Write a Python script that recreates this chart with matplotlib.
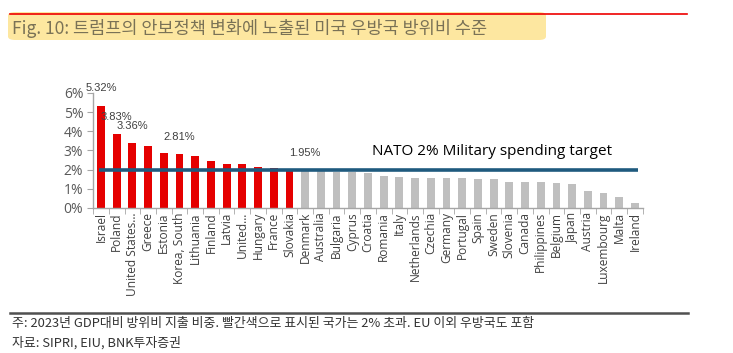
import matplotlib
matplotlib.use('Agg')
import matplotlib.pyplot as plt
from matplotlib.patches import FancyBboxPatch
from matplotlib.lines import Line2D
from matplotlib.ticker import FuncFormatter, FixedLocator

# ---------------------------------------------------------------
# DATA  (defence spending as share of GDP, 2023)
# ---------------------------------------------------------------
countries = ['Israel', 'Poland', 'United States\u2026', 'Greece', 'Estonia',
             'Korea, South', 'Lithuania', 'Finland', 'Latvia', 'United\u2026',
             'Hungary', 'France', 'Slovakia', 'Denmark', 'Australia',
             'Bulgaria', 'Cyprus', 'Croatia', 'Romania', 'Italy',
             'Netherlands', 'Czechia', 'Germany', 'Portugal', 'Spain',
             'Sweden', 'Slovenia', 'Canada', 'Philippines', 'Belgium',
             'Japan', 'Austria', 'Luxembourg', 'Malta', 'Ireland']
spending = [5.32, 3.83, 3.36, 3.22, 2.86,
            2.81, 2.71, 2.43, 2.27, 2.27,
            2.13, 2.06, 2.01, 1.95, 1.93,
            1.88, 1.86, 1.81, 1.66, 1.60,
            1.56, 1.55, 1.54, 1.55, 1.52,
            1.53, 1.37, 1.37, 1.33, 1.28,
            1.27, 0.89, 0.80, 0.59, 0.28]
above_target = [True] * 13 + [False] * 22
labelled = {'Israel': '5.32%', 'Poland': '3.83%', 'United States\u2026': '3.36%',
            'Korea, South': '2.81%', 'Denmark': '1.95%'}
NATO_TARGET = 2.0

TITLE = 'Fig. 10: 트럼프의 안보정책 변화에 노출된 미국 우방국 방위비 수준'
NOTE = '주: 2023년 GDP대비 방위비 지출 비중. 빨간색으로 표시된 국가는 2% 초과. EU 이외 우방국도 포함'
SOURCE = '자료: SIPRI, EIU, BNK투자증권'

RED = '#e50000'
GREY = '#bfbfbf'
KR = ['Noto Sans CJK KR', 'DejaVu Sans']

# ---------------------------------------------------------------
# PLOT
# ---------------------------------------------------------------
fig = plt.figure(figsize=(7.33, 3.53), dpi=100)
ax = fig.add_axes([0.127, 0.411, 0.750, 0.326])

x = list(range(len(countries)))
colors = [RED if a else GREY for a in above_target]
ax.bar(x, spending, width=0.5, color=colors, zorder=2)

# value labels
for i, c in enumerate(countries):
    if c in labelled:
        ax.annotate(labelled[c], (i, spending[i]), xytext=(0, 9),
                    textcoords='offset points', ha='center', va='bottom',
                    fontsize=8, family='Liberation Sans', color='#404040',
                    annotation_clip=False)

# NATO 2% target line
ax.plot([-0.15, 34.2], [NATO_TARGET, NATO_TARGET], color='#1f5a7e', lw=2.6,
        zorder=3, solid_capstyle='butt')
ax.text(24.9, 2.95, 'NATO 2% Military spending target', ha='center',
        va='center', fontsize=11, family='Open Sans', color='black')

ax.set_xlim(-0.5, 34.5)
ax.set_ylim(0, 6)
ax.set_yticks(range(0, 7))
ax.yaxis.set_major_formatter(FuncFormatter(lambda v, p: f'{v:.0f}%'))
ax.set_xticks(x)
ax.set_xticklabels(countries, rotation=90, fontsize=8.6, family='Open Sans',
                   color='#404040')
ax.xaxis.set_minor_locator(FixedLocator([i + 0.5 for i in range(-1, len(x))]))
ax.tick_params(axis='x', which='major', length=0, pad=3)
ax.tick_params(axis='x', which='minor', length=4, color='#a6a6a6')
ax.tick_params(axis='y', length=4, color='#a6a6a6', labelsize=10,
               labelcolor='#595959', pad=3)
for lab in ax.get_yticklabels():
    lab.set_family('Open Sans')

for s in ['top', 'right']:
    ax.spines[s].set_visible(False)
for s in ['left', 'bottom']:
    ax.spines[s].set_color('#a6a6a6')
    ax.spines[s].set_linewidth(1)

# ---------------------------------------------------------------
# HEADER / FOOTER
# ---------------------------------------------------------------
W, H = 733, 353
fig.add_artist(FancyBboxPatch((8 / W, (H - 40) / H), 538 / W, 28 / H,
                              boxstyle='round,pad=0,rounding_size=0.01',
                              transform=fig.transFigure, facecolor='#fde7a0',
                              edgecolor='none', zorder=0))
fig.add_artist(Line2D([10 / W, 687 / W], [(H - 14) / H] * 2, color='#ee0000',
                      lw=1.2, transform=fig.transFigure))
fig.text(12 / W, (H - 28) / H, TITLE, fontsize=12.6, family=KR,
         color='#7a7256', va='center', ha='left')

fig.add_artist(Line2D([10 / W, 688 / W], [(H - 313) / H] * 2, color='#505050',
                      lw=1.8, transform=fig.transFigure))
fig.text(12 / W, (H - 324) / H, NOTE, fontsize=9.3, family=KR,
         color='#333333', va='center', ha='left')
fig.text(12 / W, (H - 343) / H, SOURCE, fontsize=9.3, family=KR,
         color='#333333', va='center', ha='left')

fig.savefig('out.png', dpi=100)
